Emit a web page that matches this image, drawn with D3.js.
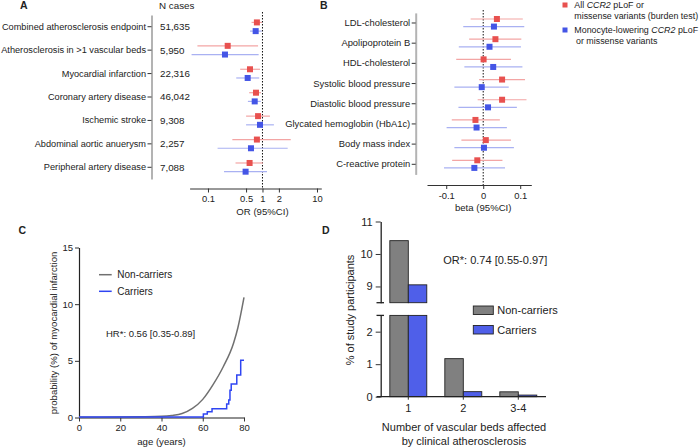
<!DOCTYPE html>
<html><head><meta charset="utf-8">
<script src="https://cdn.jsdelivr.net/npm/d3@7"></script>
<style>
html,body{margin:0;padding:0;background:#fff;}
svg{display:block;font-family:"Liberation Sans",Arial,sans-serif;}
</style></head><body>
<svg id="c" width="700" height="448"></svg>
<script>
// ---------- DATA ----------
const outcomesA = ["Combined atherosclerosis endpoint","Atherosclerosis in >1 vascular beds","Myocardial infarction","Coronary artery disease","Ischemic stroke","Abdominal aortic anuerysm","Peripheral artery disease"];
const nCasesA = ["51,635","5,950","22,316","46,042","9,308","2,257","7,088"];
const orAll   = [0.79, 0.23, 0.59, 0.76, 0.83, 0.79, 0.58];
const orAllLo = [0.63, 0.064, 0.39, 0.57, 0.50, 0.28, 0.32];
const orAllHi = [0.98, 0.83, 0.90, 0.94, 1.37, 3.3, 1.02];
const orMono   = [0.75, 0.205, 0.535, 0.72, 0.90, 0.615, 0.49];
const orMonoLo = [0.59, 0.05, 0.33, 0.54, 0.50, 0.15, 0.197];
const orMonoHi = [0.97, 0.85, 0.87, 0.93, 1.62, 2.9, 1.21];
const orTicks = [0.1, 0.5, 1, 2, 10];

const traitsB = ["LDL-cholesterol","Apolipoprotein B","HDL-cholesterol","Systolic blood pressure","Diastolic blood pressure","Glycated hemoglobin (HbA1c)","Body mass index","C-reactive protein"];
const betaAll   = [0.037, 0.033, 0.001, 0.051, 0.051, -0.021, 0.007, -0.016];
const betaAllLo = [-0.034, -0.038, -0.073, -0.011, -0.015, -0.085, -0.059, -0.084];
const betaAllHi = [0.107, 0.103, 0.075, 0.113, 0.117, 0.045, 0.075, 0.052];
const betaMono   = [0.029, 0.017, 0.027, -0.004, 0.013, -0.018, 0.002, -0.024];
const betaMonoLo = [-0.054, -0.066, -0.051, -0.078, -0.067, -0.099, -0.078, -0.106];
const betaMonoHi = [0.111, 0.102, 0.106, 0.069, 0.091, 0.064, 0.083, 0.059];
const betaTicks = [-0.1, 0, 0.1];

const ageNon = [0, 10, 20, 30, 40, 45, 50, 55, 60, 65, 70, 75, 77, 80];
const probNon = [0.03, 0.03, 0.04, 0.06, 0.1, 0.18, 0.35, 0.8, 1.6, 2.9, 4.5, 6.6, 7.9, 10.6];
const ageCar = [0, 60.3, 62.2, 64.5, 71.6, 72.6, 73.2, 73.8, 76.5, 78.4, 80];
const probCar = [0.05, 0.3, 0.5, 0.78, 1.2, 1.55, 2.4, 2.95, 3.75, 5.05, 5.05];
const ageTicks = [0, 20, 40, 60, 80];
const probTicks = [0, 5, 10, 15];

const bedCats = ["1", "2", "3-4"];
const pctNon = [10.41, 1.17, 0.15];
const pctCar = [9.05, 0.155, 0.05];
const upperTicks = [9, 10, 11];
const lowerTicks = [0, 1, 2];

// ---------- STYLE ----------
const RED = "#e8514f", REDCI = "#f3a5a4", BLUE = "#4455e6", BLUECI = "#a9b1f2";
const GRAYBAR = "#808080", BLUEBAR = "#4f5fe9";
const TXT = "#222";

const svg = d3.select("#c");

function panelLabel(t, x, y) {
  svg.append("text").attr("x", x).attr("y", y).attr("dy", "0.35em")
    .attr("font-size", 10.5).attr("font-weight", "bold").attr("fill", TXT).text(t);
}
function styleAxis(g, fs) {
  g.selectAll("text").attr("font-size", fs).attr("fill", TXT).attr("font-family", '"Liberation Sans",Arial,sans-serif');
  g.selectAll("line").attr("stroke", "#333");
  g.select(".domain").attr("stroke", "#333");
}

// ---------- PANEL A ----------
panelLabel("A", 20, 5);
const yA = d3.scaleBand().domain(outcomesA).range([15, 179]);
const xA = d3.scaleLog().domain([0.046, 12]).range([189.6, 321.3]);
const gA = svg.append("g");
const axA = gA.append("g").attr("transform", "translate(151.5,0)")
  .call(d3.axisLeft(yA).tickSize(4).tickPadding(1.5).tickSizeOuter(0));
styleAxis(axA, 9.2);
axA.select(".domain").attr("stroke", "#b3b3b3").attr("stroke-width", 2);
gA.append("text").attr("x", 159).attr("y", 5.5).attr("dy", "0.35em").attr("font-size", 9.8).attr("fill", TXT).text("N cases");
gA.selectAll(".nc").data(nCasesA).join("text").attr("x", 160)
  .attr("y", (d, i) => yA(outcomesA[i]) + yA.bandwidth() / 2).attr("dy", "0.35em")
  .attr("font-size", 9.8).attr("fill", TXT).text(d => d);
const bxA = gA.append("g").attr("transform", "translate(0,188.5)")
  .call(d3.axisBottom(xA).tickValues(orTicks).tickFormat(d => String(d)).tickSize(4).tickPadding(3).tickSizeOuter(0));
styleAxis(bxA, 9.4);
gA.append("text").attr("x", xA(1)).attr("y", 212).attr("dy", "0.35em").attr("text-anchor", "middle")
  .attr("font-size", 9.6).attr("fill", TXT).text("OR (95%CI)");
gA.append("line").attr("x1", xA(1)).attr("x2", xA(1)).attr("y1", 12).attr("y2", 188.5)
  .attr("stroke", "#111").attr("stroke-width", 1).attr("stroke-dasharray", "1.5,1.5");

function forest(g, cats, yS, xS, est, lo, hi, off, col, ciCol) {
  const cy = (i) => yS(cats[i]) + yS.bandwidth() / 2 + off;
  g.selectAll(null).data(est).join("line")
    .attr("x1", (d, i) => xS(lo[i])).attr("x2", (d, i) => xS(hi[i]))
    .attr("y1", (d, i) => cy(i)).attr("y2", (d, i) => cy(i))
    .attr("stroke", ciCol).attr("stroke-width", 1.2);
  g.selectAll(null).data(est).join("rect")
    .attr("x", d => xS(d) - 3).attr("y", (d, i) => cy(i) - 3)
    .attr("width", 6).attr("height", 6).attr("fill", col);
}
forest(gA, outcomesA, yA, xA, orAll, orAllLo, orAllHi, -4.3, RED, REDCI);
forest(gA, outcomesA, yA, xA, orMono, orMonoLo, orMonoHi, 4.4, BLUE, BLUECI);

// ---------- PANEL B ----------
panelLabel("B", 320, 5);
const yB = d3.scaleBand().domain(traitsB).range([12.9, 174.4]);
const xB = d3.scaleLinear().domain([-0.152, 0.13]).range([427, 531.3]);
const gB = svg.append("g");
const axB = gB.append("g").attr("transform", "translate(415.7,0)")
  .call(d3.axisLeft(yB).tickSize(4).tickPadding(1.5).tickSizeOuter(0));
styleAxis(axB, 9.4);
axB.select(".domain").attr("stroke", "#b3b3b3").attr("stroke-width", 2);
const bxB = gB.append("g").attr("transform", "translate(0,185)")
  .call(d3.axisBottom(xB).tickValues(betaTicks).tickFormat(d => d === 0 ? "0" : String(d)).tickSize(4).tickPadding(3).tickSizeOuter(0));
styleAxis(bxB, 9.4);
gB.append("text").attr("x", xB(0)).attr("y", 208).attr("dy", "0.35em").attr("text-anchor", "middle")
  .attr("font-size", 9.6).attr("fill", TXT).text("beta (95%CI)");
gB.append("line").attr("x1", xB(0)).attr("x2", xB(0)).attr("y1", 10).attr("y2", 185)
  .attr("stroke", "#111").attr("stroke-width", 1).attr("stroke-dasharray", "1.5,1.5");
forest(gB, traitsB, yB, xB, betaAll, betaAllLo, betaAllHi, -4, RED, REDCI);
forest(gB, traitsB, yB, xB, betaMono, betaMonoLo, betaMonoHi, 3.6, BLUE, BLUECI);

// legend B
const lg = svg.append("g").attr("font-size", 8.9).attr("fill", TXT);
lg.append("rect").attr("x", 562.5).attr("y", 2.5).attr("width", 5).attr("height", 5).attr("fill", RED);
lg.append("rect").attr("x", 562.5).attr("y", 27.5).attr("width", 5).attr("height", 5).attr("fill", BLUE);
let t1 = lg.append("text").attr("x", 574.3).attr("y", 5).attr("dy", "0.35em");
t1.append("tspan").text("All ");
t1.append("tspan").attr("font-style", "italic").text("CCR2");
t1.append("tspan").text(" pLoF or");
lg.append("text").attr("x", 574.3).attr("y", 15.5).attr("dy", "0.35em").text("missense variants (burden test)");
let t2 = lg.append("text").attr("x", 574.3).attr("y", 30).attr("dy", "0.35em");
t2.append("tspan").text("Monocyte-lowering ");
t2.append("tspan").attr("font-style", "italic").text("CCR2");
t2.append("tspan").text(" pLoF");
lg.append("text").attr("x", 576).attr("y", 40.5).attr("dy", "0.35em").text("or missense variants");

// ---------- PANEL C ----------
panelLabel("C", 18.5, 230);
const xC = d3.scaleLinear().domain([0, 80]).range([79, 244]);
const yC = d3.scaleLinear().domain([0, 15]).range([417.5, 247.5]);
const gC = svg.append("g");
const axCy = gC.append("g").attr("transform", "translate(79,0)")
  .call(d3.axisLeft(yC).tickValues(probTicks).tickSize(4).tickPadding(2).tickSizeOuter(0));
styleAxis(axCy, 9.5);
axCy.select(".domain").attr("stroke", "#222").attr("stroke-width", 1.2);
const axCx = gC.append("g").attr("transform", "translate(0,417.5)")
  .call(d3.axisBottom(xC).tickValues(ageTicks).tickSize(4).tickPadding(3).tickSizeOuter(0));
styleAxis(axCx, 9.5);
axCx.select(".domain").attr("stroke", "#222").attr("stroke-width", 1.2);
gC.append("text").attr("x", 161.5).attr("y", 441.5).attr("dy", "0.35em").attr("text-anchor", "middle")
  .attr("font-size", 9.6).attr("fill", TXT).text("age (years)");
gC.append("text").attr("transform", "translate(53.5,333) rotate(-90)").attr("dy", "0.35em").attr("text-anchor", "middle")
  .attr("font-size", 9.6).attr("fill", TXT).text("probability (%) of myocardial infarction");
const nonPts = ageNon.map((a, i) => [a, probNon[i]]);
const carPts = ageCar.map((a, i) => [a, probCar[i]]);
gC.append("path").datum(nonPts)
  .attr("d", d3.line().x(d => xC(d[0])).y(d => yC(d[1])).curve(d3.curveMonotoneX))
  .attr("fill", "none").attr("stroke", "#707070").attr("stroke-width", 1.5);
gC.append("path").datum(carPts)
  .attr("d", d3.line().x(d => xC(d[0])).y(d => yC(d[1])).curve(d3.curveStepAfter))
  .attr("fill", "none").attr("stroke", "#2f45f2").attr("stroke-width", 1.5);
gC.append("line").attr("x1", 99).attr("x2", 111.7).attr("y1", 274.7).attr("y2", 274.7).attr("stroke", "#707070").attr("stroke-width", 1.5);
gC.append("line").attr("x1", 99).attr("x2", 111.7).attr("y1", 291.3).attr("y2", 291.3).attr("stroke", "#2f45f2").attr("stroke-width", 1.5);
gC.append("text").attr("x", 117.3).attr("y", 274.7).attr("dy", "0.35em").attr("font-size", 10).attr("fill", TXT).text("Non-carriers");
gC.append("text").attr("x", 117.3).attr("y", 291.3).attr("dy", "0.35em").attr("font-size", 10).attr("fill", TXT).text("Carriers");
gC.append("text").attr("x", 106).attr("y", 333.3).attr("dy", "0.35em").attr("font-size", 9.5).attr("fill", TXT).text("HR*: 0.56 [0.35-0.89]");

// ---------- PANEL D ----------
panelLabel("D", 322, 230);
const xD = d3.scaleBand().domain(bedCats).range([380.8, 545.8]);
const yUp = d3.scaleLinear().domain([8.5, 11]).range([302.7, 221.5]);
const yLo = d3.scaleLinear().domain([0, 2.5]).range([396.7, 315.4]);
const gD = svg.append("g");
const bw = xD.bandwidth() * 0.336;
function drawBars(vals, side, col) {
  gD.selectAll(null).data(vals).join("rect")
    .attr("x", (d, i) => xD(bedCats[i]) + xD.bandwidth() / 2 + (side < 0 ? -bw : 0))
    .attr("width", bw)
    .attr("y", d => yLo(Math.min(d, 2.5)))
    .attr("height", d => yLo(0) - yLo(Math.min(d, 2.5)))
    .attr("fill", col).attr("stroke", "#222").attr("stroke-width", 0.9);
  gD.selectAll(null).data(vals.map((d, i) => [d, i]).filter(d => d[0] > 8.5)).join("rect")
    .attr("x", d => xD(bedCats[d[1]]) + xD.bandwidth() / 2 + (side < 0 ? -bw : 0))
    .attr("width", bw)
    .attr("y", d => yUp(d[0]))
    .attr("height", d => yUp(8.5) - yUp(d[0]))
    .attr("fill", col).attr("stroke", "#222").attr("stroke-width", 0.9);
}
drawBars(pctNon, -1, GRAYBAR);
drawBars(pctCar, 1, BLUEBAR);
const axUp = gD.append("g").attr("transform", "translate(380.7,0)")
  .call(d3.axisLeft(yUp).tickValues(upperTicks).tickFormat(d3.format("d")).tickSize(5).tickPadding(3).tickSizeOuter(0));
styleAxis(axUp, 11);
axUp.select(".domain").attr("stroke", "#222").attr("stroke-width", 1.3);
const axLo = gD.append("g").attr("transform", "translate(380.7,0)")
  .call(d3.axisLeft(yLo).tickValues(lowerTicks).tickFormat(d3.format("d")).tickSize(5).tickPadding(3).tickSizeOuter(0));
styleAxis(axLo, 11);
axLo.select(".domain").attr("stroke", "#222").attr("stroke-width", 1.3);
[yUp(8.5), yLo(2.5)].forEach(yy => {
  gD.append("line").attr("x1", 376.5).attr("x2", 384).attr("y1", yy).attr("y2", yy).attr("stroke", "#222").attr("stroke-width", 1.3);
});
const axDx = gD.append("g").attr("transform", "translate(0,396.7)")
  .call(d3.axisBottom(xD).tickSize(3).tickPadding(5).tickSizeOuter(0));
styleAxis(axDx, 11);
axDx.select(".domain").attr("stroke", "#222").attr("stroke-width", 1.3)
  .attr("d", "M376.7,0H546");
gD.append("text").attr("x", 464).attr("y", 427.3).attr("dy", "0.35em").attr("text-anchor", "middle")
  .attr("font-size", 11).attr("fill", TXT).text("Number of vascular beds affected");
gD.append("text").attr("x", 464).attr("y", 440.7).attr("dy", "0.35em").attr("text-anchor", "middle")
  .attr("font-size", 11).attr("fill", TXT).text("by clinical atherosclerosis");
gD.append("text").attr("transform", "translate(350.5,310) rotate(-90)").attr("dy", "0.35em").attr("text-anchor", "middle")
  .attr("font-size", 11).attr("fill", TXT).text("% of study participants");
gD.append("text").attr("x", 443.3).attr("y", 260).attr("dy", "0.35em").attr("font-size", 11).attr("fill", TXT).text("OR*: 0.74 [0.55-0.97]");
gD.append("rect").attr("x", 473.3).attr("y", 306).attr("width", 20).attr("height", 8.5).attr("fill", GRAYBAR).attr("stroke", "#222").attr("stroke-width", 0.9);
gD.append("rect").attr("x", 473.3).attr("y", 325.5).attr("width", 20).attr("height", 8.5).attr("fill", BLUEBAR).attr("stroke", "#222").attr("stroke-width", 0.9);
gD.append("text").attr("x", 497.3).attr("y", 310.2).attr("dy", "0.35em").attr("font-size", 11).attr("fill", TXT).text("Non-carriers");
gD.append("text").attr("x", 497.3).attr("y", 329.8).attr("dy", "0.35em").attr("font-size", 11).attr("fill", TXT).text("Carriers");
</script>
</body></html>
